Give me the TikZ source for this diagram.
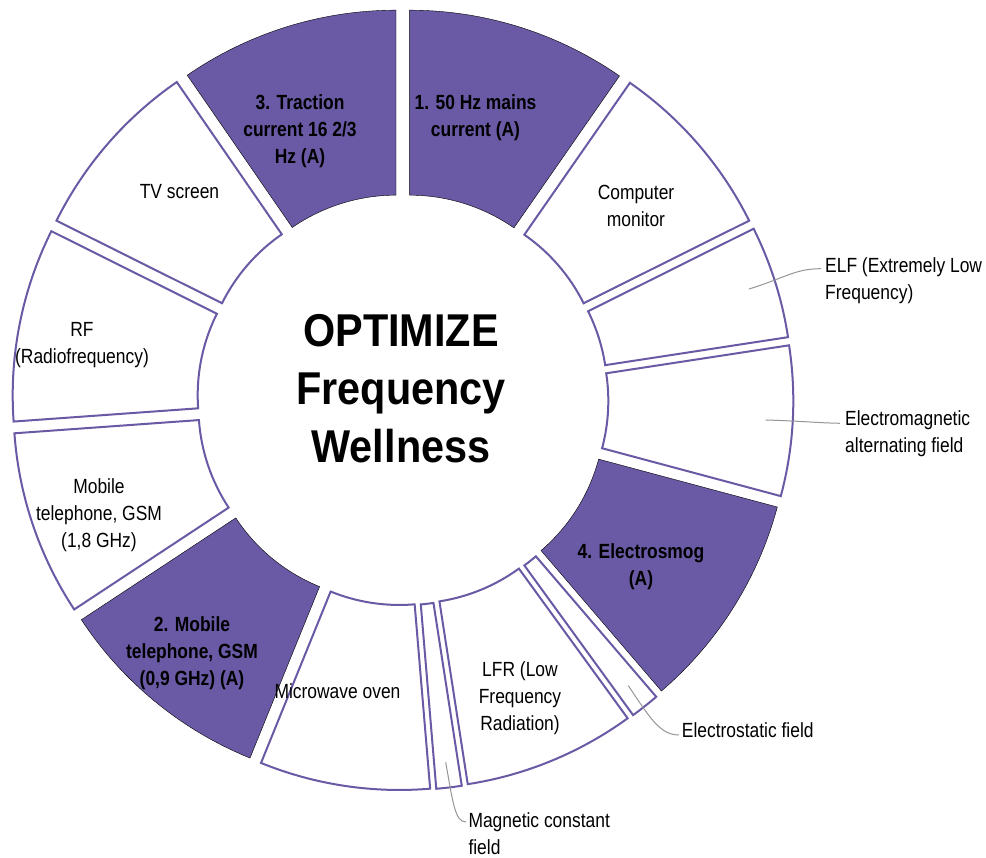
\documentclass[tikz,border=0pt]{standalone}
\usepackage{fontspec}
\setmainfont[FakeStretch=0.85]{Liberation Sans}
\newfontfamily\titlefont[FakeStretch=0.9]{Liberation Sans}
\definecolor{vio}{RGB}{106,89,164}
\definecolor{lead}{RGB}{150,150,150}
\newcommand{\donutslice}[3]{%
  \pgfmathsetmacro{\bisang}{(#1+#2)/2}%
  \draw[#3, shift={(\bisang:22.8pt)}] (#1:182.75pt) -- (#1:367.75pt)
    arc[start angle=#1, end angle=#2, radius=367.75pt] -- (#2:182.75pt)
    arc[start angle=#2, end angle=#1, radius=182.75pt] -- cycle;%
}
\tikzset{
  lab/.style={font=\fontsize{20.5pt}{27pt}\selectfont, align=center, inner sep=0pt, text=black},
  blab/.style={lab, font=\fontsize{20.5pt}{27pt}\selectfont\bfseries},
  sidelab/.style={lab, align=left, anchor=west},
  leader/.style={draw=lead, line width=1pt},
  pur/.style={fill=vio},
  wht/.style={draw=vio, fill=white, line width=2pt},
}
\begin{document}
\begin{tikzpicture}[x=1pt, y=1pt]
\useasboundingbox (0,0) rectangle (986,858);
\fill[white] (0,0) rectangle (986,858);
\begin{scope}[shift={(402.8pt,458.3pt)}]
  \donutslice{55.2}{90}{pur}
  \donutslice{26.5}{55.2}{wht}
  \donutslice{8.7}{26.5}{wht}
  \donutslice{-15}{8.7}{wht}
  \donutslice{-49.4}{-15}{pur}
  \donutslice{-54}{-49.4}{wht}
  \donutslice{-81.2}{-54}{wht}
  \donutslice{-85.2}{-81.2}{wht}
  \donutslice{-112.1}{-85.2}{wht}
  \donutslice{-146.6}{-112.1}{pur}
  \donutslice{-175.9}{-146.6}{wht}
  \donutslice{153.5}{184.1}{wht}
  \donutslice{124.6}{153.5}{wht}
  \donutslice{90}{124.6}{pur}
\end{scope}

% title
\node[font=\titlefont\bfseries\fontsize{46pt}{58pt}\selectfont, align=center, inner sep=0pt] (title) at (401,469) {OPTIMIZE\\Frequency\\Wellness};

% slice labels
\node[blab] (hz50) at (475.5,740.5) {1. 50 Hz mains\\current (A)};
\node[blab] (traction) at (300,727) {3. Traction\\current 16 2/3\\Hz (A)};
\node[lab] (computer) at (636,652.5) {Computer\\monitor};
\node[lab] (tv) at (179.5,666.3) {TV screen};
\node[lab] (rf) at (82,512.5) {RF\\(Radiofrequency)};
\node[lab] (gsm18) at (99,343) {Mobile\\telephone, GSM\\(1,8 GHz)};
\node[blab] (gsm09) at (192,205) {2. Mobile\\telephone, GSM\\(0,9 GHz) (A)};
\node[lab] (micro) at (337.5,167.3) {Microwave oven};
\node[lab] (lfr) at (520,160) {LFR (Low\\Frequency\\Radiation)};
\node[blab] (smog) at (641,291) {4. Electrosmog\\(A)};

% outside labels
\node[sidelab] (elf) at (825,577) {ELF (Extremely Low\\Frequency)};
\node[sidelab] (emf) at (845,424.7) {Electromagnetic\\alternating field};
\node[sidelab] (estat) at (681.7,128) {Electrostatic field};
\node[sidelab] (magc) at (468.3,24.3) {Magnetic constant\\field};

% leaders
\coordinate (elfA) at (749,569);
\coordinate (elfB) at (821,589.3);
\coordinate (emA) at (765.7,438);
\coordinate (emB) at (840,434.7);
\coordinate (esA) at (628.3,172.3);
\coordinate (esB) at (679,123);
\coordinate (mgA) at (445.7,95.7);
\coordinate (mgB) at (466,36);
\draw[leader] (elfA) .. controls (785,580) and (795,589.3) .. (elfB);
\draw[leader] (emA) .. controls (800,437) and (820,435) .. (emB);
\draw[leader] (esA) .. controls (650,140) and (660,123) .. (esB);
\draw[leader] (mgA) .. controls (453,55) and (455,36) .. (mgB);
\end{tikzpicture}
\end{document}
